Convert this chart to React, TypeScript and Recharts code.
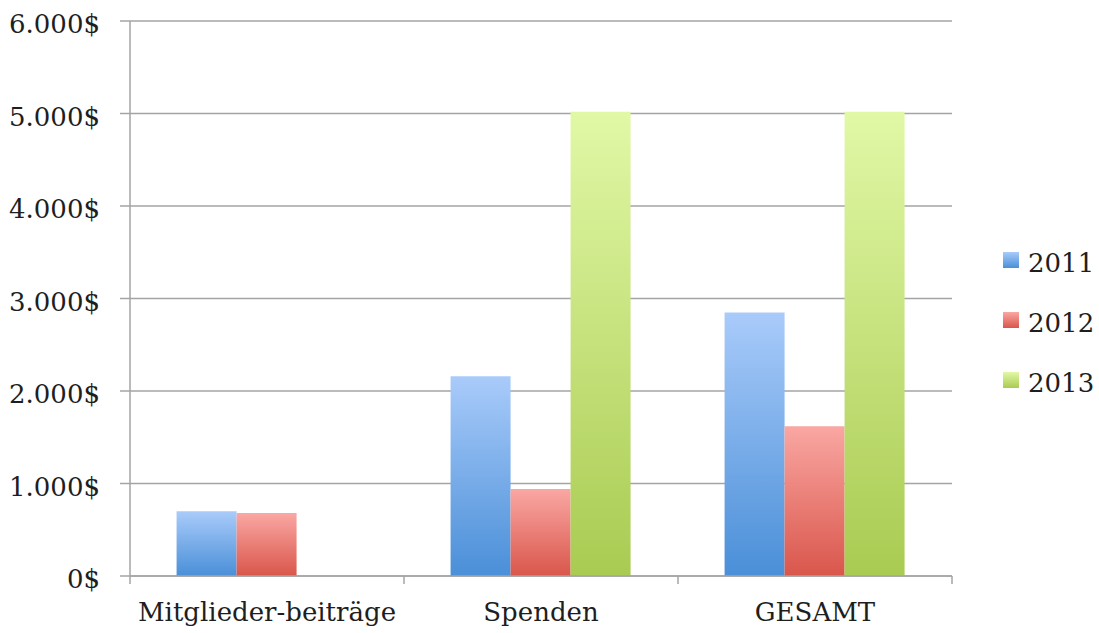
import React from 'react';
import { BarChart, Bar, XAxis, YAxis, CartesianGrid } from 'recharts';

const categories = ['Mitglieder-beiträge', 'Spenden', 'GESAMT'];
const values2011 = [700, 2160, 2850];
const values2012 = [680, 940, 1620];
const values2013 = [0, 5020, 5020];
const yTicks = [0, 1000, 2000, 3000, 4000, 5000, 6000];

const seriesInfo = [
  { key: 'y2011', name: '2011', top: '#a9cbfa', bottom: '#4a8fd8' },
  { key: 'y2012', name: '2012', top: '#faa7a3', bottom: '#d9564b' },
  { key: 'y2013', name: '2013', top: '#e1f8a6', bottom: '#a9cb52' },
];

const data = categories.map((c, i) => ({
  name: c,
  y2011: values2011[i],
  y2012: values2012[i],
  y2013: values2013[i],
}));

const FONT = 'DejaVu Serif';
const GRID = '#a4a4a4';

const fmt = (v: number) => v.toLocaleString('de-DE') + '$';

const CatTick = (props: any) => {
  const { x, y, payload, width, visibleTicksCount, index } = props;
  const band = width / (visibleTicksCount || categories.length);
  const lines = [x - band / 2];
  if (index === (visibleTicksCount || categories.length) - 1) lines.push(x + band / 2);
  return (
    <g>
      {lines.map((lx, i) => (
        <line key={i} x1={lx} x2={lx} y1={y} y2={y + 8} stroke={GRID} strokeWidth={1.5} />
      ))}
      <text
        x={x}
        y={y + 27}
        dy="0.71em"
        textAnchor="middle"
        fontFamily={FONT}
        fontSize={26}
        fill="#1e1e1e"
      >
        {payload.value}
      </text>
    </g>
  );
};

export default function App() {
  return (
    <div style={{ position: 'absolute', left: 0, top: 0, width: 1099, height: 633, background: '#fff' }}>
      <BarChart
        width={1099}
        height={633}
        data={data}
        margin={{ top: 21, right: 147, bottom: 0, left: 0 }}
        barCategoryGap="17%"
        barGap={0}
      >
        <defs>
          {seriesInfo.map((s) => (
            <linearGradient key={s.key} id={'g' + s.key} x1="0" y1="0" x2="0" y2="1">
              <stop offset="0%" stopColor={s.top} />
              <stop offset="100%" stopColor={s.bottom} />
            </linearGradient>
          ))}
        </defs>
        <CartesianGrid vertical={false} stroke={GRID} strokeWidth={1.5} />
        <XAxis
          dataKey="name"
          height={57}
          tickLine={false}
          tickSize={0}
          tickMargin={0}
          axisLine={{ stroke: GRID, strokeWidth: 1.5 }}
          tick={CatTick}
          interval={0}
        />
        <YAxis
          width={130}
          domain={[0, 6000]}
          ticks={yTicks}
          tickFormatter={fmt}
          tickSize={10}
          tickMargin={20}
          axisLine={{ stroke: GRID, strokeWidth: 1.5 }}
          tickLine={{ stroke: GRID, strokeWidth: 1.5 }}
          tick={{ fontFamily: FONT, fontSize: 26, fill: '#1e1e1e', dy: 3 }}
        />
        {seriesInfo.map((s) => (
          <Bar
            key={s.key}
            dataKey={s.key}
            name={s.name}
            fill={`url(#g${s.key})`}
            isAnimationActive={false}
          />
        ))}
      </BarChart>
      <div style={{ position: 'absolute', left: 1003, top: 233, fontFamily: FONT, fontSize: 26, color: '#1e1e1e' }}>
        {seriesInfo.map((s) => (
          <div key={s.key} style={{ display: 'flex', alignItems: 'center', height: 60 }}>
            <div
              style={{
                width: 16,
                height: 16,
                background: `linear-gradient(${s.top}, ${s.bottom})`,
                marginRight: 9,
                marginTop: -6,
              }}
            />
            <span>{s.name}</span>
          </div>
        ))}
      </div>
    </div>
  );
}
